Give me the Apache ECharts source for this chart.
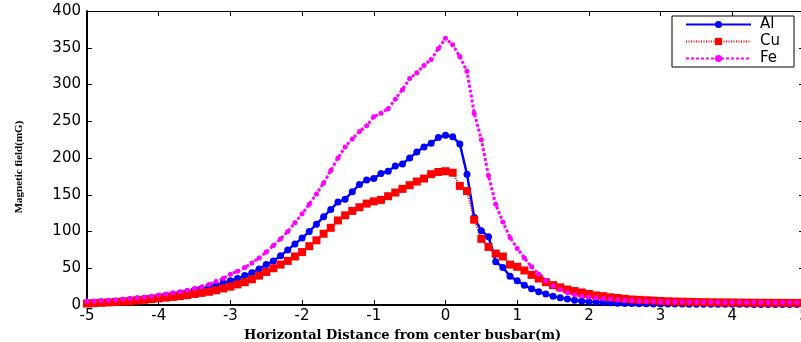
<!DOCTYPE html>
<html>
<head>
<meta charset="utf-8">
<script src="https://cdn.jsdelivr.net/npm/echarts@6/dist/echarts.min.js"></script>
<style>html,body{margin:0;padding:0;background:#fff}#c{width:801px;height:342px}</style>
</head>
<body>
<div id="c"></div>
<script>
// Horizontal distance from centre busbar (m)
const distance = [-5.0,-4.9,-4.8,-4.7,-4.6,-4.5,-4.4,-4.3,-4.2,-4.1,-4.0,-3.9,-3.8,-3.7,-3.6,-3.5,-3.4,-3.3,-3.2,-3.1,-3.0,-2.9,-2.8,-2.7,-2.6,-2.5,-2.4,-2.3,-2.2,-2.1,-2.0,-1.9,-1.8,-1.7,-1.6,-1.5,-1.4,-1.3,-1.2,-1.1,-1.0,-0.9,-0.8,-0.7,-0.6,-0.5,-0.4,-0.3,-0.2,-0.1,0.0,0.1,0.2,0.3,0.4,0.5,0.6,0.7,0.8,0.9,1.0,1.1,1.2,1.3,1.4,1.5,1.6,1.7,1.8,1.9,2.0,2.1,2.2,2.3,2.4,2.5,2.6,2.7,2.8,2.9,3.0,3.1,3.2,3.3,3.4,3.5,3.6,3.7,3.8,3.9,4.0,4.1,4.2,4.3,4.4,4.5,4.6,4.7,4.8,4.9,5.0];

// Magnetic field (mG)
const al = [3,3.5,4,4.5,5,6,7,8,9,10,11.5,13,14.5,16,18,20,22,24,27,30,33,36,40,44,49,55,60,67,75,83,91,100,110,120,130,140,144,154,164,170,172,179,182,189,192,200,208,215,220,228,231,229,219,178,119,101,93,59,51,39,33,27,22,18,15,12,10,8,6.5,5.5,4.5,4,3.5,3,2.5,2.2,2,1.8,1.6,1.5,1.4,1.3,1.2,1.2,1.1,1.1,1.0,1.0,1.0,0.9,0.9,0.9,0.9,0.8,0.8,0.8,0.8,0.8,0.7,0.7,0.7];

const cu = [2,2.5,3,3.5,4,4.5,5,6,7,8,9,10,11,12,13.5,15,16.5,18,20,22.5,25,28,31,35,40,45,50,55,60,66,72,80,88,97,105,115,122,128,133,138,141,143,148,153,158,163,168,172,178,181,182,180,162,155,116,90,79,70,66,55,52,47,41,36,31,27,24,21,19,17,15,13,12,10.5,9.5,8.5,7.5,7,6.5,6,5.5,5,4.8,4.5,4.3,4,3.9,3.7,3.6,3.5,3.4,3.3,3.2,3.1,3,3,2.9,2.9,2.8,2.8,2.7];

const fe = [5,5.5,6,6.5,7,8,9,10,11,12,13.5,15,16.5,18,20,22.5,25,28,32,36,42,46,51,57,64,72,81,90,100,112,124,137,151,166,183,200,215,226,236,244,256,261,267,280,293,308,316,326,334,349,363,354,338,318,261,225,176,137,113,92,77,64,52,42,33,26,21,17,14,12,11,10,9,8,7,6.5,6,5.5,5,5,4.6,4.5,4.4,4.3,4.2,4.1,4,4,3.9,3.8,3.8,3.7,3.7,3.6,3.6,3.5,3.5,3.5,3.4,3.4,3.4];

const seriesNames = ['Al', 'Cu', 'Fe'];
const xTitle = 'Horizontal Distance from center busbar(m)';
const yTitle = 'Magnetic field(mG)';

const pairs = arr => distance.map((d, i) => [d, arr[i]]);

const tickFont = { fontFamily: 'DejaVu Sans', fontSize: 15, color: '#000' };

const chart = echarts.init(document.getElementById('c'), null, { renderer: 'canvas' });
chart.setOption({
  animation: false,
  backgroundColor: '#fff',
  grid: { left: 87, right: -3, top: 11, bottom: 37, containLabel: false, outerBoundsMode: 'none' },
  legend: {
    orient: 'vertical',
    left: 672, top: 16,
    padding: [0, 9, 0, 13],
    itemGap: 0,
    itemWidth: 65, itemHeight: 9,
    backgroundColor: '#fff',
    borderColor: '#000', borderWidth: 1,
    textStyle: { fontFamily: 'DejaVu Sans', fontSize: 15, color: '#000', lineHeight: 17, padding: [0,0,0,4], width: 25 },
    data: seriesNames
  },
  xAxis: [{
    type: 'value', min: -5, max: 5, interval: 1, position: 'bottom',
    name: xTitle, nameLocation: 'middle', nameGap: 17,
    nameTextStyle: { fontFamily: 'DejaVu Serif', fontWeight: 'bold', fontSize: 13, color: '#000', padding: [0, 86, 0, 0] },
    axisLine: { onZero: false, lineStyle: { color: '#000', width: 2 } },
    axisTick: { inside: true, length: 5, lineStyle: { color: '#000' } },
    axisLabel: Object.assign({ margin: 4 }, tickFont),
    splitLine: { show: false }
  }, {
    type: 'value', min: -5, max: 5, interval: 1, position: 'top',
    axisLine: { onZero: false, lineStyle: { color: '#000', width: 1 } },
    axisTick: { inside: true, length: 5, lineStyle: { color: '#000' } },
    axisLabel: { show: false },
    splitLine: { show: false }
  }],
  yAxis: [{
    type: 'value', min: 0, max: 400, interval: 50, position: 'left',
    name: yTitle, nameLocation: 'middle', nameGap: 62, nameRotate: 90,
    nameTextStyle: { fontFamily: 'Liberation Serif', fontWeight: 'bold', fontSize: 11, color: '#000', padding: [0, 18, 0, 0] },
    axisLine: { onZero: false, lineStyle: { color: '#000', width: 2 } },
    axisTick: { inside: true, length: 5, lineStyle: { color: '#000' } },
    axisLabel: Object.assign({ margin: 6 }, tickFont),
    splitLine: { show: false }
  }, {
    type: 'value', min: 0, max: 400, interval: 50, position: 'right',
    axisLine: { onZero: false, lineStyle: { color: '#000', width: 1 } },
    axisTick: { inside: true, length: 5, lineStyle: { color: '#000' } },
    axisLabel: { show: false },
    splitLine: { show: false }
  }],
  series: [{
    name: seriesNames[0], type: 'line', data: pairs(al),
    color: '#0000ff',
    symbol: 'circle', symbolSize: 7, showSymbol: true,
    lineStyle: { width: 2.5, type: 'solid', color: '#0000ff' },
    itemStyle: { color: '#0000ff' }
  }, {
    name: seriesNames[1], type: 'line', data: pairs(cu),
    color: '#ff0000',
    symbol: 'rect', symbolSize: 8, showSymbol: true,
    lineStyle: { width: 2, type: [1, 1.5], color: '#ff0000' },
    itemStyle: { color: '#ff0000' }
  }, {
    name: seriesNames[2], type: 'line', data: pairs(fe),
    color: '#ff00ff',
    symbol: 'circle', symbolSize: 5, showSymbol: true,
    lineStyle: { width: 3, type: [3, 2], color: '#ff00ff' },
    itemStyle: { color: '#ff00ff' }
  }]
});
</script>
</body>
</html>
